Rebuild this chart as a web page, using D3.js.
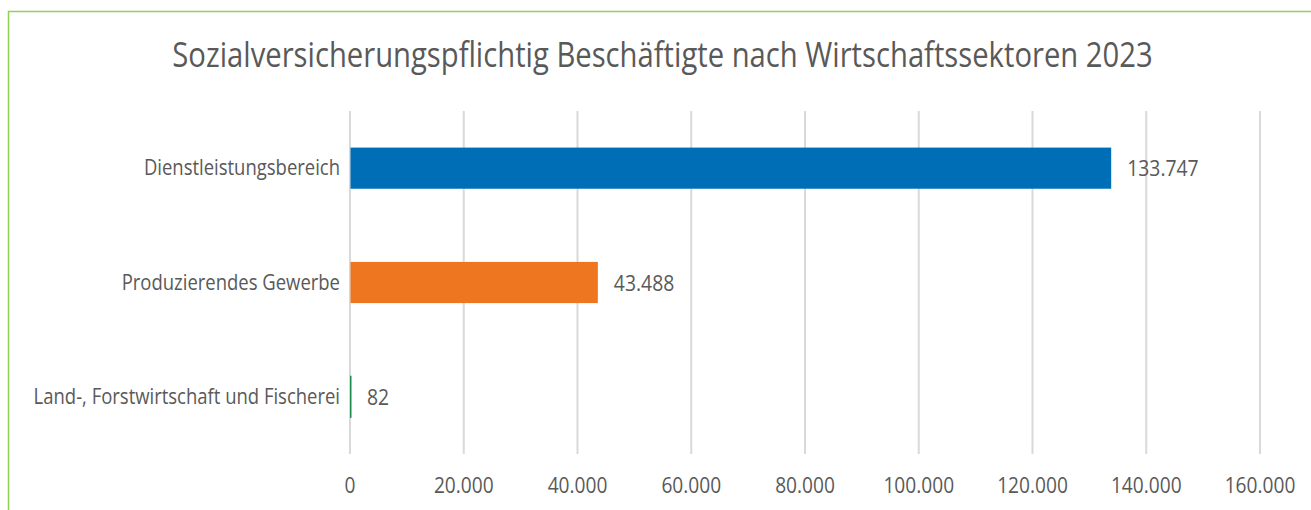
<!DOCTYPE html>
<html>
<head>
<meta charset="utf-8">
<script src="https://cdn.jsdelivr.net/npm/d3@7"></script>
<style>
  body { margin: 0; background: #fff; }
  svg text { font-family: "Open Sans", "Noto Sans", sans-serif; fill: #595959; }
</style>
</head>
<body>
<div id="chart"></div>
<script>
var title = "Sozialversicherungspflichtig Beschäftigte nach Wirtschaftssektoren 2023"
var categories = ["Dienstleistungsbereich", "Produzierendes Gewerbe", "Land-, Forstwirtschaft und Fischerei"]
var values = [133747, 43488, 82]
var barColors = ["#006EB7", "#EE7621", "#1E8B4C"]
var xTicks = [0, 20000, 40000, 60000, 80000, 100000, 120000, 140000, 160000]

var width = 1311, height = 510
var margin = {top: 111, right: 51.5, bottom: 56, left: 349.5}
// the source font is a condensed one, so squeeze text horizontally
var squeeze = 0.88

var de = d3.formatLocale({decimal: ",", thousands: ".", grouping: [3], currency: ["", " €"]})
var fmt = de.format(",d")

var svg = d3.select("#chart").append("svg")
    .attr("width", width)
    .attr("height", height)

// green frame, open at right and bottom
svg.append("path")
    .attr("d", `M8.5,${height}V11.5H${width}`)
    .attr("fill", "none")
    .attr("stroke", "#92D050")
    .attr("stroke-width", 1.5)

svg.append("text")
    .attr("transform", `translate(662.5,67) scale(0.86,1)`)
    .attr("text-anchor", "middle")
    .style("font-size", "34px")
    .text(title)

var x = d3.scaleLinear().domain([0, 160000]).range([margin.left, width - margin.right])
var y = d3.scaleBand().domain(categories)
    .range([margin.top, height - margin.bottom])
    .paddingInner(0.64).paddingOuter(0.32)

var xAxis = d3.axisBottom(x)
    .tickValues(xTicks)
    .tickFormat(fmt)
    .tickSize(-(height - margin.bottom - margin.top))
    .tickPadding(23)

var gx = svg.append("g")
    .attr("transform", `translate(0,${height - margin.bottom})`)
    .call(xAxis)
gx.select(".domain").remove()
gx.selectAll(".tick line").attr("stroke", "#D9D9D9").attr("stroke-width", 2)
gx.selectAll(".tick text")
    .attr("transform", `scale(0.87,1)`)
    .attr("fill", "#595959")
    .style("font-size", "22px")
    .style("font-family", "'Open Sans', 'Noto Sans', sans-serif")

var data = categories.map((c, i) => ({cat: c, value: values[i], color: barColors[i]}))

svg.append("g").selectAll("rect")
    .data(data)
    .join("rect")
    .attr("x", x(0) + 1)
    .attr("y", d => y(d.cat))
    .attr("width", d => Math.max(x(d.value) - x(0), 0.5))
    .attr("height", y.bandwidth())
    .attr("fill", d => d.color)
    .attr("stroke", d => d.value < 1000 ? d.color : "none")
    .attr("stroke-width", 1)

svg.append("g").selectAll("text")
    .data(data)
    .join("text")
    .attr("transform", d => `translate(${x(d.value) + 17},${y(d.cat) + y.bandwidth() / 2 + 8}) scale(${squeeze},1)`)
    .style("font-size", "22px")
    .text(d => fmt(d.value))

svg.append("g").selectAll("text")
    .data(categories)
    .join("text")
    .attr("transform", d => `translate(${margin.left - 9.5},${y(d) + y.bandwidth() / 2 + 7}) scale(${squeeze},1)`)
    .attr("text-anchor", "end")
    .style("font-size", "21px")
    .text(d => d)
</script>
</body>
</html>
